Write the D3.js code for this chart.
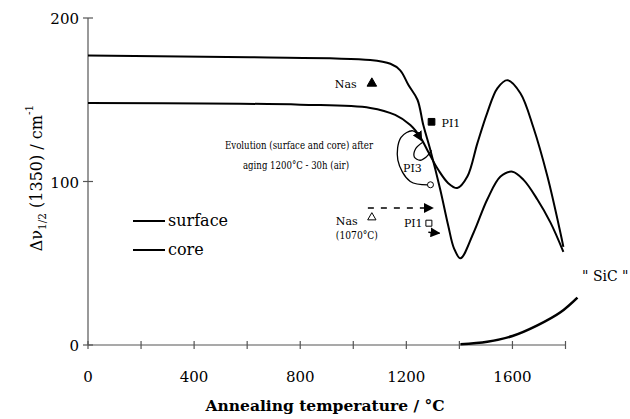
<!DOCTYPE html>
<html><head><meta charset="utf-8">
<script src="https://cdn.jsdelivr.net/npm/d3@7"></script>
<style>
body{margin:0;background:#fff;}
</style></head>
<body><svg id="c" width="630" height="419"></svg>
<script>
// ---- data ----
const xTickValues = [0,200,400,600,800,1000,1200,1400,1600,1800];
const xTickLabels = [0,400,800,1200,1600];
const yTickValues = [0,100,200];
const surfaceT = [0,611,1064,1140,1177,1208,1242,1264,1291,1328,1358,1380,1404,1453,1505,1555,1600,1642,1694,1743,1792];
const surfaceV = [177,176,174.3,172,168,159,150,134.5,119,95,73,59,53,68.5,89,103,106,101,89,75,57];
const coreT = [0,800,1064,1158,1215,1253,1283,1321,1358,1392,1430,1468,1505,1543,1581,1630,1679,1732,1781,1792];
const coreV = [148,147,145,140.7,134.5,127,118,107,99,96,103,123.5,142,157,162,154,133,103,68.5,60];
const sicT = [1404,1505,1600,1694,1781,1845];
const sicV = [0.5,2,5.5,12,20,29];
const legendNames = ["surface","core"];
// annotation points (data units)
const nasSolid = {T:1070, v:160};
const pi1Solid = {T:1295, v:136.5};
const nasOpen = {T:1070, v:78};
const pi1Open = {T:1285, v:74.5};
const loopCircle = {T:1291, v:98};
const dashedArrowT = [1055, 1300]; const dashedArrowV = 83.8;
const solidArrowT = [1283, 1325]; const solidArrowV = 69;

const FONT = "DejaVu Serif";
const svg = d3.select("#c").attr("font-family", FONT);
const x = d3.scaleLinear().domain([0,1800]).range([88,565.5]);
const y = d3.scaleLinear().domain([0,200]).range([345,18]);
const axisCol = "#555";

// axes lines
svg.append("line").attr("x1",x(0)).attr("x2",x(1800)).attr("y1",y(0)).attr("y2",y(0)).attr("stroke",axisCol).attr("stroke-width",1.2);
svg.append("line").attr("x1",x(0)).attr("x2",x(0)).attr("y1",y(0)).attr("y2",y(200)).attr("stroke",axisCol).attr("stroke-width",1.2);
svg.selectAll(".xt").data(xTickValues).join("line").attr("x1",d=>x(d)).attr("x2",d=>x(d)).attr("y1",y(0)-4).attr("y2",y(0)+4).attr("stroke",axisCol).attr("stroke-width",1.2);
svg.selectAll(".yt").data(yTickValues).join("line").attr("x1",x(0)-5).attr("x2",x(0)+5).attr("y1",d=>y(d)).attr("y2",d=>y(d)).attr("stroke",axisCol).attr("stroke-width",1.2);
svg.selectAll(".xl").data(xTickLabels).join("text").attr("x",d=>x(d)).attr("y",y(0)+37).attr("text-anchor","middle").attr("font-size",15).text(d=>d);
svg.selectAll(".yl").data(yTickValues).join("text").attr("x",x(0)-9).attr("y",d=>y(d)+6).attr("text-anchor","end").attr("font-size",15).text(d=>d);

// titles
svg.append("text").attr("x",325).attr("y",411).attr("text-anchor","middle").attr("font-size",15.5).attr("font-weight","bold").text("Annealing temperature /  °C");
const yt = svg.append("text").attr("transform","translate(42,178) rotate(-90)").attr("text-anchor","middle").attr("font-size",16);
yt.append("tspan").text("Δν");
yt.append("tspan").attr("font-size",10.5).attr("dy",4).text("1/2");
yt.append("tspan").attr("dy",-4).text(" (1350) / cm");
yt.append("tspan").attr("font-size",10.5).attr("dy",-9).text("-1");

// curves
const line = d3.line().x(d=>x(d[0])).y(d=>y(d[1])).curve(d3.curveCatmullRom.alpha(0.5));
const sData = surfaceT.map((t,i)=>[t,surfaceV[i]]);
const cData = coreT.map((t,i)=>[t,coreV[i]]);
const siData = sicT.map((t,i)=>[t,sicV[i]]);
svg.append("path").attr("d",line(sData)).attr("fill","none").attr("stroke","#000").attr("stroke-width",2);
svg.append("path").attr("d",line(cData)).attr("fill","none").attr("stroke","#000").attr("stroke-width",2);
svg.append("path").attr("d",line(siData)).attr("fill","none").attr("stroke","#000").attr("stroke-width",2.6);

// legend
legendNames.forEach((n,i)=>{
  const yy = 221 + i*29;
  svg.append("line").attr("x1",133).attr("x2",165).attr("y1",yy).attr("y2",yy).attr("stroke","#000").attr("stroke-width",2);
  svg.append("text").attr("x",168).attr("y",yy+5).attr("font-size",16).text(n);
});

// defs arrowhead
svg.append("defs").append("marker").attr("id","ah").attr("viewBox","0 0 10 10").attr("refX",9).attr("refY",5)
  .attr("markerWidth",10).attr("markerHeight",10).attr("markerUnits","userSpaceOnUse").attr("orient","auto")
  .append("path").attr("d","M0,0 L10,5 L0,10 z").attr("fill","#000");

// annotations
const sym = (type, p, filled, size) => svg.append("path").attr("d",d3.symbol().type(type).size(size)())
  .attr("transform",`translate(${x(p.T)},${y(p.v)})`).attr("fill",filled?"#000":"#fff").attr("stroke","#000").attr("stroke-width",1);
sym(d3.symbolTriangle, nasSolid, true, 40);
svg.append("text").attr("x",x(nasSolid.T)-37).attr("y",y(nasSolid.v)+5).attr("font-size",11).text("Nas");
sym(d3.symbolSquare, pi1Solid, true, 45);
svg.append("text").attr("x",x(pi1Solid.T)+10).attr("y",y(pi1Solid.v)+5).attr("font-size",11).text("PI1");

svg.append("text").attr("x",225).attr("y",149).attr("font-size",11.5).attr("textLength",148).attr("lengthAdjust","spacingAndGlyphs").text("Evolution (surface and core) after");
svg.append("text").attr("x",243).attr("y",169).attr("font-size",11.5).attr("textLength",106).attr("lengthAdjust","spacingAndGlyphs").text("aging  1200°C - 30h (air)");

// loop arrow
const lline = d3.line().x(d=>x(d[0])).y(d=>y(d[1])).curve(d3.curveCatmullRom.alpha(0.5));
const lp = [[1291,98],[1215,100],[1168,113],[1180,127],[1225,131],[1258,125]];
svg.append("path").attr("d",lline(lp)).attr("fill","none").attr("stroke","#000").attr("stroke-width",1.3).attr("marker-end","url(#ah)");
const ip = [[1262,124],[1235,120],[1230,115],[1252,113],[1275,115],[1295,119]];
svg.append("path").attr("d",lline(ip)).attr("fill","none").attr("stroke","#000").attr("stroke-width",1.3);
svg.append("circle").attr("cx",x(loopCircle.T)).attr("cy",y(loopCircle.v)).attr("r",3).attr("fill","#fff").attr("stroke","#000").attr("stroke-width",1);
svg.append("text").attr("x",403).attr("y",y(106)).attr("font-size",11).text("PI3");

// dashed + solid arrows
svg.append("line").attr("x1",x(dashedArrowT[0])).attr("x2",x(dashedArrowT[1])).attr("y1",y(dashedArrowV)).attr("y2",y(dashedArrowV))
  .attr("stroke","#000").attr("stroke-width",1.5).attr("stroke-dasharray","6,7").attr("marker-end","url(#ah)");
svg.append("line").attr("x1",x(solidArrowT[0])).attr("x2",x(solidArrowT[1])).attr("y1",y(solidArrowV)).attr("y2",y(solidArrowV)+1)
  .attr("stroke","#000").attr("stroke-width",1.5).attr("marker-end","url(#ah)");
sym(d3.symbolTriangle, nasOpen, false, 30);
svg.append("text").attr("x",x(nasOpen.T)-36).attr("y",y(nasOpen.v)+8).attr("font-size",11).text("Nas");
svg.append("text").attr("x",x(nasOpen.T)-36).attr("y",y(nasOpen.v)+22).attr("font-size",11).attr("textLength",42).attr("lengthAdjust","spacingAndGlyphs").text("(1070°C)");
sym(d3.symbolSquare, pi1Open, false, 36);
svg.append("text").attr("x",x(pi1Open.T)-25).attr("y",y(pi1Open.v)+4).attr("font-size",11).text("PI1");

svg.append("text").attr("x",582).attr("y",281).attr("font-size",14).text("\" SiC \"");
</script></body></html>
